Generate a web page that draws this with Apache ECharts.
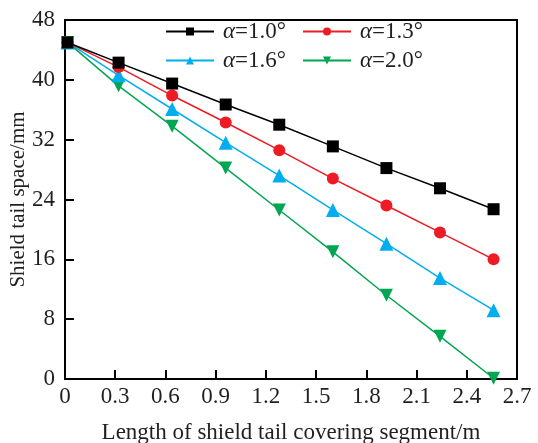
<!DOCTYPE html>
<html><head><meta charset="utf-8">
<script src="https://cdn.jsdelivr.net/npm/echarts@6/dist/echarts.min.js"></script>
<style>html,body{margin:0;padding:0;background:#fff}#c{width:538px;height:443px}</style>
</head><body><div id="c"></div>
<script>
const xValues = [0.015, 0.32, 0.64, 0.96, 1.28, 1.60, 1.92, 2.24, 2.56];
const seriesNames = ['α=1.0°', 'α=1.3°', 'α=1.6°', 'α=2.0°'];
const a10 = [45.0, 42.3, 39.5, 36.7, 34.0, 31.1, 28.2, 25.5, 22.7];
const a13 = [45.0, 41.7, 37.9, 34.3, 30.6, 26.8, 23.2, 19.6, 16.0];
const a16 = [45.0, 40.6, 36.1, 31.6, 27.2, 22.6, 18.1, 13.5, 9.2];
const a20 = [45.0, 39.2, 33.8, 28.2, 22.6, 17.0, 11.2, 5.7, 0.1];
const xTicks = ['0', '0.3', '0.6', '0.9', '1.2', '1.5', '1.8', '2.1', '2.4', '2.7'];

const font = '"Liberation Serif","Times New Roman",serif';
const txt = '#231f20';
const colors = ['#000000', '#ed1c24', '#00aeef', '#00a651'];
const symbols = ['rect', 'circle', 'triangle', 'path://M0,0 L10,0 L5,9 Z'];
const sizes = [12, 12, 14, 13];
const data = [a10, a13, a16, a20];

function legendAt(i, left, top) {
  return {
    data: [seriesNames[i]], left: left, top: top, itemWidth: 48, itemHeight: 10,
    padding: 0,
    formatter: n => '{a|α}{b|' + n.slice(1) + '}',
    textStyle: {
      fontFamily: font, fontSize: 23, color: txt,
      rich: {
        a: { fontFamily: font, fontSize: 23, color: txt, fontStyle: 'italic', padding: [0, 0, 0, 4] },
        b: { fontFamily: font, fontSize: 23, color: txt }
      }
    }
  };
}

const chart = echarts.init(document.getElementById('c'), null, { renderer: 'canvas' });
chart.setOption({
  animation: false,
  backgroundColor: '#fff',
  grid: { left: 65, right: 21, top: 20, bottom: 64, show: true, borderColor: '#000', borderWidth: 2, containLabel: false, outerBoundsMode: 'none' },
  legend: [legendAt(0, 165, 20), legendAt(1, 302, 20), legendAt(2, 165, 49), legendAt(3, 302, 49)],
  xAxis: {
    type: 'value', min: 0, max: 2.7, interval: 0.3,
    name: 'Length of shield tail covering segment/m', nameLocation: 'middle', nameGap: 42,
    nameMoveOverlap: false,
    nameTextStyle: { fontFamily: font, fontSize: 23, color: txt },
    axisLine: { show: true, lineStyle: { color: '#000', width: 2 } },
    axisTick: { show: true, inside: true, length: 9, lineStyle: { color: '#000', width: 2 } },
    axisLabel: { fontFamily: font, fontSize: 23, color: txt, margin: 6, formatter: (v) => xTicks[Math.round(v / 0.3)] },
    splitLine: { show: false }
  },
  yAxis: {
    type: 'value', min: 0, max: 48, interval: 8,
    name: 'Shield tail space/mm', nameLocation: 'middle', nameGap: 36,
    nameMoveOverlap: false,
    nameTextStyle: { fontFamily: font, fontSize: 21, color: txt },
    axisLine: { show: true, lineStyle: { color: '#000', width: 2 } },
    axisTick: { show: true, inside: true, length: 9, lineStyle: { color: '#000', width: 2 } },
    axisLabel: { fontFamily: font, fontSize: 23, color: txt, margin: 10 },
    splitLine: { show: false }
  },
  series: data.map((d, i) => ({
    name: seriesNames[i], type: 'line',
    data: d.map((v, j) => [xValues[j], v]),
    symbol: symbols[i], symbolSize: sizes[i],
    itemStyle: { color: colors[i] },
    lineStyle: { color: colors[i], width: 1.5 },
    z: 10 - i
  }))
});
</script></body></html>
